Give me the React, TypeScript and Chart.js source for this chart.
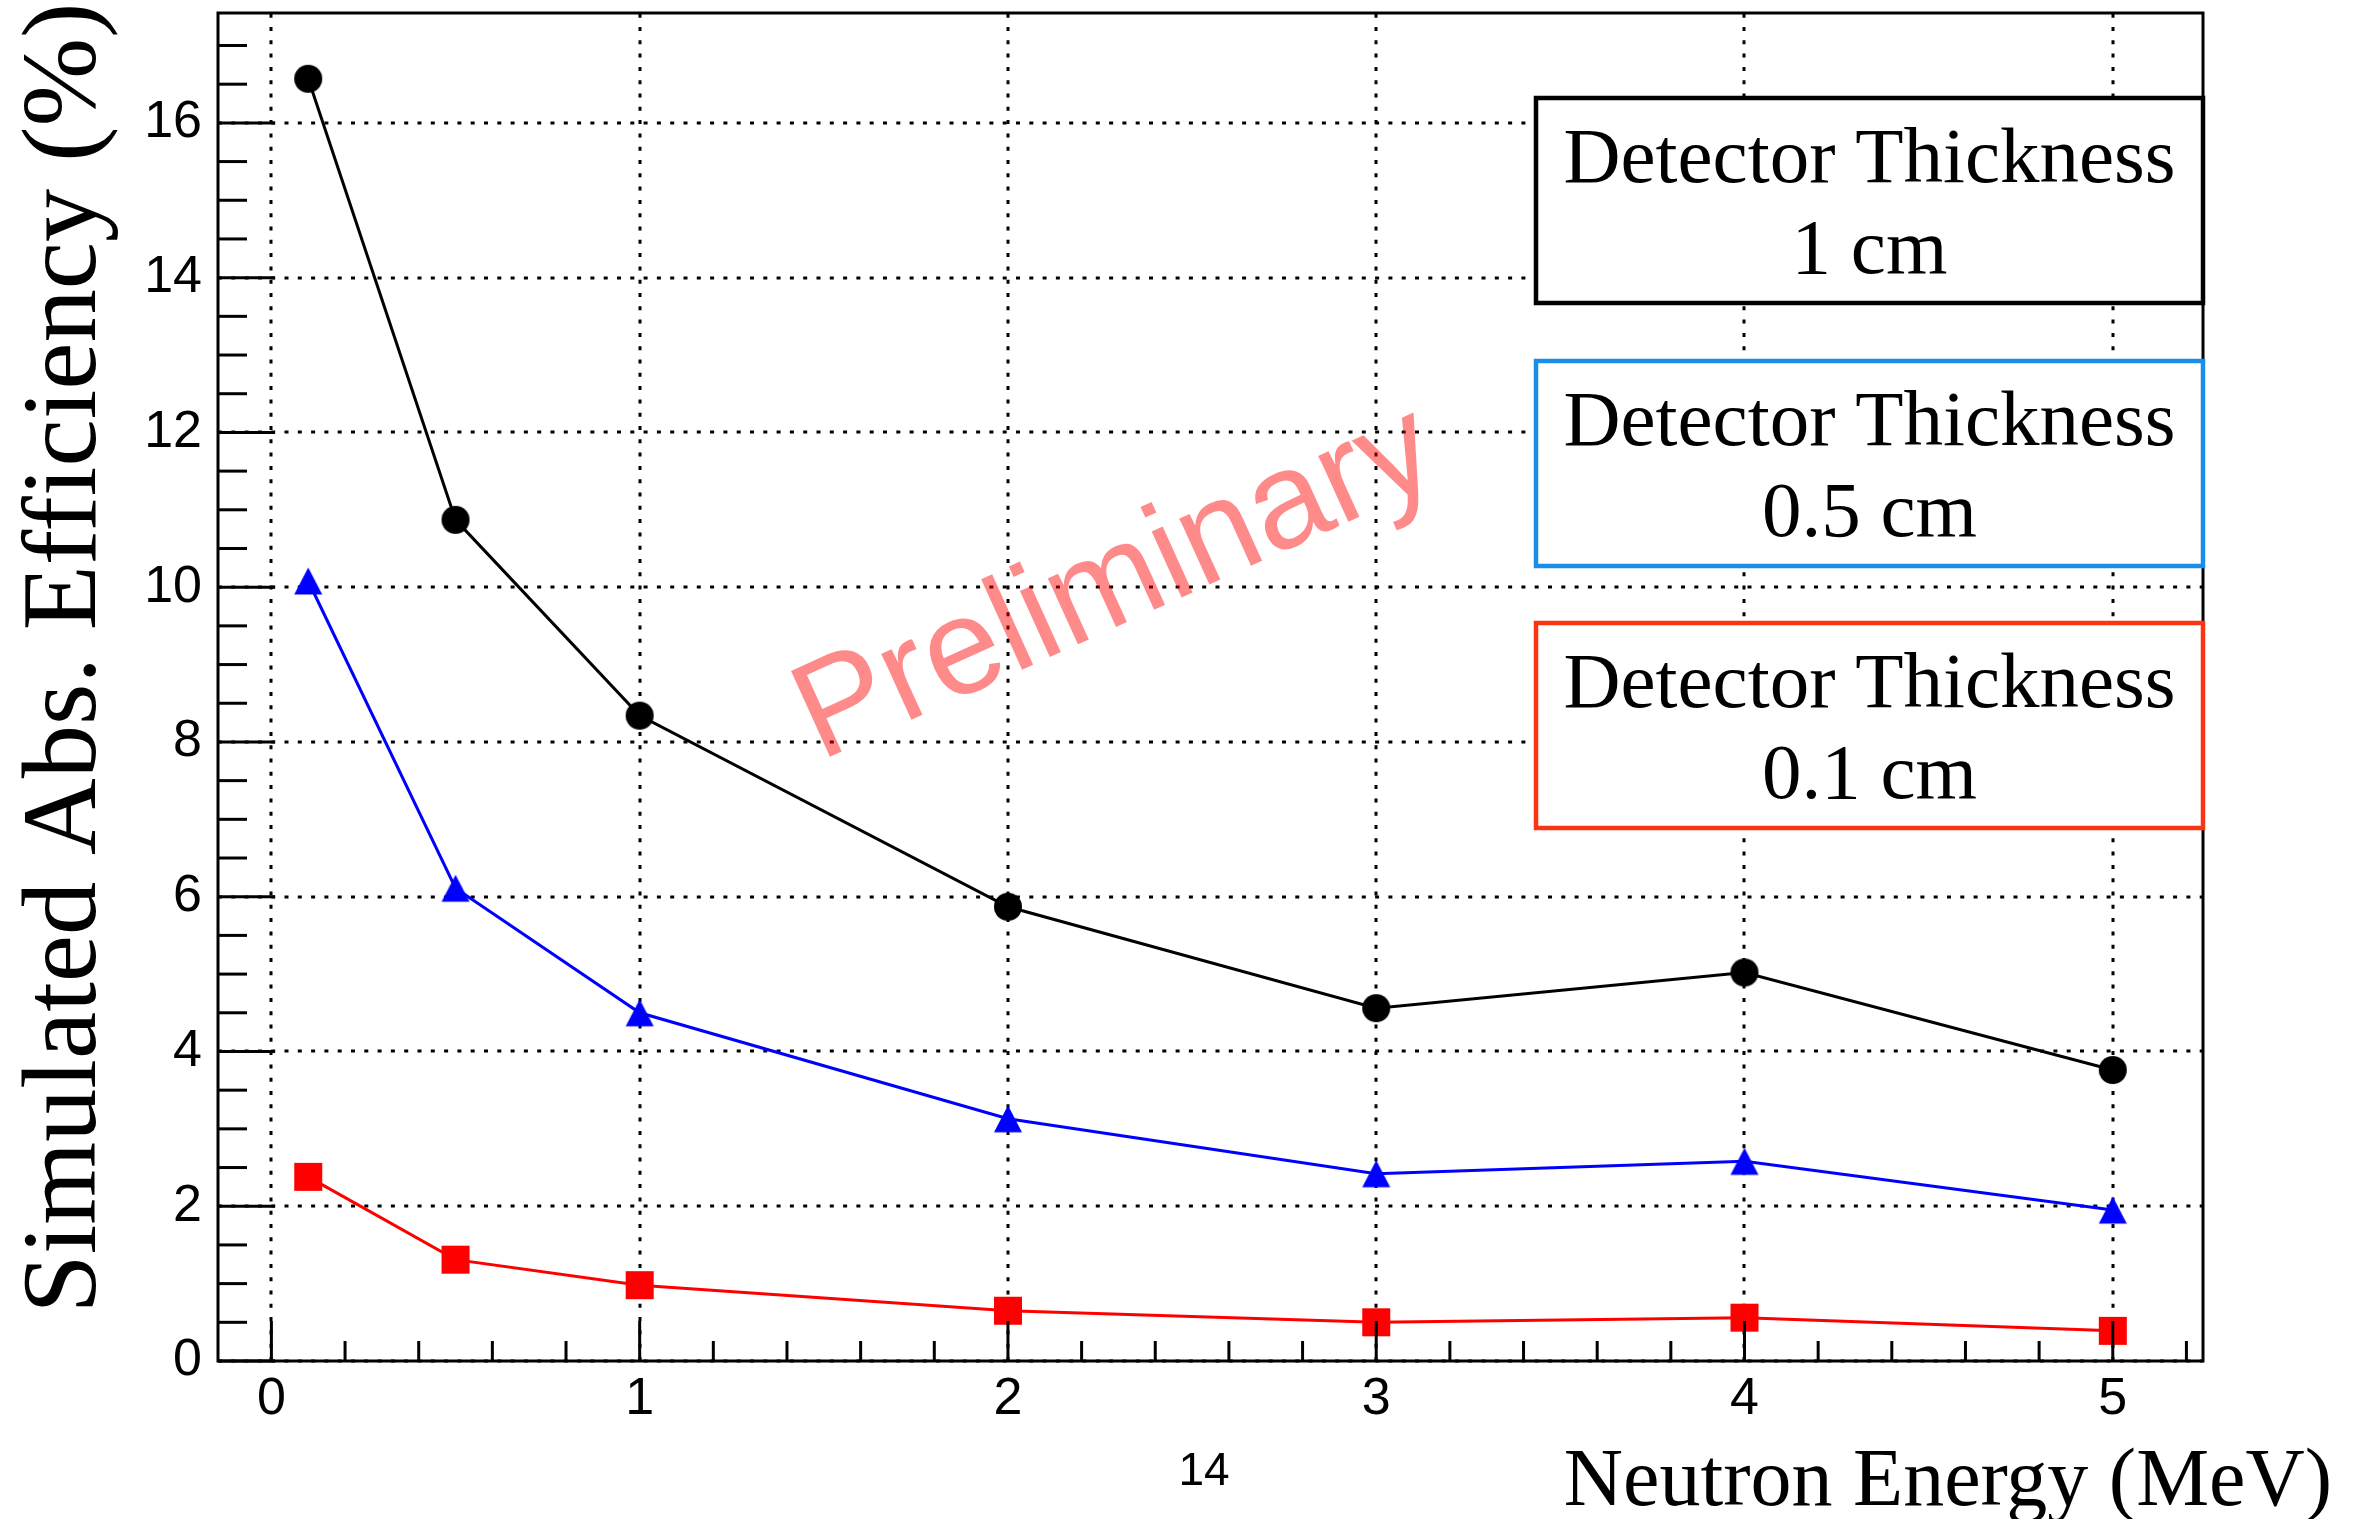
import React, { useEffect, useRef } from 'react';
import { Chart, registerables } from 'chart.js';

Chart.register(...registerables);

// ---- data ----
const energies = [0.1, 0.5, 1, 2, 3, 4, 5];
const eff1cm = [16.57, 10.87, 8.34, 5.87, 4.56, 5.02, 3.76];
const eff05cm = [10.08, 6.11, 4.5, 3.13, 2.42, 2.58, 1.95];
const eff01cm = [2.38, 1.31, 0.98, 0.65, 0.5, 0.56, 0.39];
const thicknessLabels = ['1 cm', '0.5 cm', '0.1 cm'];
const boxHeading = 'Detector Thickness';
const xAxisTitle = 'Neutron Energy (MeV)';
const yAxisTitle = 'Simulated Abs. Efficiency (%)';
const watermarkText = 'Preliminary';
const pageLabel = '14';
const xMin = -0.145;
const xMax = 5.245;
const xStep = 1;
const xMinorStep = 0.2;
const yMin = 0;
const yMax = 17.42;
const yStep = 2;
const yMinorStep = 0.5;

// ---- layout / style ----
const W = 2358;
const H = 1519;
const AREA = { left: 218, top: 13, right: 2203, bottom: 1361 };
const SANS = '"Liberation Sans", Arial, Helvetica, sans-serif';
const SERIF = '"Liberation Serif", "Times New Roman", Times, serif';
const seriesColors = ['#000000', '#0000ff', '#ff0000'];
const boxColors = ['#000000', '#1a8ee8', '#fb3513'];

function makeMarker(kind: string, color: string) {
  const c = document.createElement('canvas');
  const s = 30;
  c.width = s;
  c.height = s;
  const g = c.getContext('2d')!;
  g.fillStyle = color;
  g.beginPath();
  if (kind === 'circle') {
    g.arc(s / 2, s / 2, 14, 0, Math.PI * 2);
  } else if (kind === 'square') {
    g.rect(1, 1, 28, 28);
  } else {
    g.moveTo(s / 2, 1.5);
    g.lineTo(s / 2 + 14, 28.5);
    g.lineTo(s / 2 - 14, 28.5);
    g.closePath();
  }
  g.fill();
  return c;
}

function minorValues(min: number, max: number, step: number, major: number) {
  const out: number[] = [];
  for (let i = Math.ceil(min / step - 1e-9); i * step <= max + 1e-9; i++) {
    const v = i * step;
    const r = v / major;
    if (Math.abs(r - Math.round(r)) > 1e-6) out.push(v);
  }
  return out;
}

const rootStyle = {
  id: 'rootStyle',
  beforeDatasetsDraw(chart: any) {
    const { ctx, chartArea: a } = chart;
    const x = chart.scales.x;
    const y = chart.scales.y;
    ctx.save();
    ctx.strokeStyle = '#000';
    ctx.lineWidth = 3;
    ctx.setLineDash([4, 9.3]);
    x.ticks.forEach((t: any) => {
      const px = Math.round(x.getPixelForValue(t.value));
      ctx.beginPath();
      ctx.moveTo(px, a.bottom);
      ctx.lineTo(px, a.top);
      ctx.stroke();
    });
    y.ticks.forEach((t: any) => {
      const py = Math.round(y.getPixelForValue(t.value));
      ctx.beginPath();
      ctx.moveTo(a.left, py);
      ctx.lineTo(a.right, py);
      ctx.stroke();
    });
    ctx.restore();
  },
  afterDatasetsDraw(chart: any) {
    const { ctx, chartArea: a } = chart;
    const x = chart.scales.x;
    const y = chart.scales.y;
    ctx.save();
    ctx.strokeStyle = '#000';
    ctx.lineWidth = 3;
    ctx.setLineDash([]);
    const vt = (px: number, len: number) => {
      ctx.beginPath();
      ctx.moveTo(px, a.bottom);
      ctx.lineTo(px, a.bottom - len);
      ctx.stroke();
    };
    const ht = (py: number, len: number) => {
      ctx.beginPath();
      ctx.moveTo(a.left, py);
      ctx.lineTo(a.left + len, py);
      ctx.stroke();
    };
    x.ticks.forEach((t: any) => vt(x.getPixelForValue(t.value), 40));
    minorValues(xMin, xMax, xMinorStep, xStep).forEach((v) => vt(x.getPixelForValue(v), 20));
    y.ticks.forEach((t: any) => ht(y.getPixelForValue(t.value), 57));
    minorValues(yMin, yMax, yMinorStep, yStep).forEach((v) => ht(y.getPixelForValue(v), 29));
    ctx.strokeRect(a.left, a.top, a.right - a.left, a.bottom - a.top);
    ctx.restore();
  },
  afterDraw(chart: any) {
    const { ctx, chartArea: a } = chart;
    ctx.save();
    // watermark
    ctx.save();
    ctx.translate(1131.6, 620);
    ctx.rotate((-24.4 * Math.PI) / 180);
    ctx.font = `137px ${SANS}`;
    ctx.fillStyle = 'rgba(255,0,0,0.46)';
    ctx.textAlign = 'center';
    ctx.textBaseline = 'alphabetic';
    ctx.fillText(watermarkText, 0, 0);
    ctx.restore();

    // thickness boxes
    const boxLeft = 1536;
    const boxRight = a.right;
    const boxTops = [98, 361, 623];
    const boxH = 205;
    const cx = (boxLeft + boxRight) / 2;
    thicknessLabels.forEach((lab, i) => {
      const top = boxTops[i];
      ctx.fillStyle = '#fff';
      ctx.fillRect(boxLeft, top, boxRight - boxLeft, boxH);
      ctx.strokeStyle = boxColors[i];
      ctx.lineWidth = 4.5;
      ctx.strokeRect(boxLeft, top, boxRight - boxLeft, boxH);
      ctx.fillStyle = '#000';
      ctx.font = `79px ${SERIF}`;
      ctx.textAlign = 'center';
      ctx.textBaseline = 'alphabetic';
      ctx.fillText(boxHeading, cx, top + 83.5);
      ctx.fillText(lab, cx, top + 174.5);
    });

    // axis titles
    ctx.fillStyle = '#000';
    ctx.font = `82px ${SERIF}`;
    ctx.textAlign = 'right';
    ctx.textBaseline = 'alphabetic';
    ctx.fillText(xAxisTitle, 2332, 1505);

    ctx.save();
    ctx.translate(94.5, 658);
    ctx.rotate(-Math.PI / 2);
    ctx.font = `106.5px ${SERIF}`;
    ctx.textAlign = 'center';
    ctx.fillText(yAxisTitle, 0, 0);
    ctx.restore();

    // page label
    ctx.font = `46px ${SANS}`;
    ctx.textAlign = 'center';
    ctx.fillText(pageLabel, 1204, 1485);
    ctx.restore();
  },
};

export default function App() {
  const ref = useRef<HTMLCanvasElement>(null);
  useEffect(() => {
    const canvas = ref.current;
    if (!canvas) return;
    const series = [eff1cm, eff05cm, eff01cm];
    const kinds = ['circle', 'triangle', 'square'];
    const markers = kinds.map((k, i) => makeMarker(k, seriesColors[i]));
    const chart = new Chart(canvas, {
      type: 'line',
      data: {
        datasets: series.map((vals, i) => ({
          label: thicknessLabels[i],
          data: energies.map((e, j) => ({ x: e, y: vals[j] })),
          borderColor: seriesColors[i],
          backgroundColor: seriesColors[i],
          borderWidth: 3,
          tension: 0,
          fill: false,
          pointStyle: markers[i] as any,
          pointRadius: 1,
          pointHoverRadius: 1,
          pointBorderWidth: 0,
          pointBackgroundColor: seriesColors[i],
          pointBorderColor: seriesColors[i],
        })),
      },
      options: {
        responsive: false,
        animation: false,
        devicePixelRatio: 1,
        layout: { padding: { left: 0, top: AREA.top, right: W - AREA.right, bottom: 0 } },
        plugins: {
          legend: { display: false },
          tooltip: { enabled: false },
          title: { display: false },
        },
        scales: {
          x: {
            type: 'linear',
            min: xMin,
            max: xMax,
            grid: { display: false, drawTicks: false },
            border: { display: false },
            ticks: {
              stepSize: xStep,
              includeBounds: false,
              autoSkip: false,
              maxRotation: 0,
              padding: 7,
              color: '#000',
              font: { family: SANS, size: 52 },
            },
            afterFit: (s: any) => {
              s.height = H - AREA.bottom;
              s.paddingLeft = 0;
              s.paddingRight = 0;
            },
          },
          y: {
            type: 'linear',
            min: yMin,
            max: yMax,
            grid: { display: false, drawTicks: false },
            border: { display: false },
            ticks: {
              stepSize: yStep,
              includeBounds: false,
              autoSkip: false,
              padding: 16,
              color: '#000',
              font: { family: SANS, size: 52 },
            },
            afterFit: (s: any) => {
              s.width = AREA.left;
              s.paddingTop = 0;
              s.paddingBottom = 0;
            },
          },
        },
      } as any,
      plugins: [rootStyle as any],
    });
    return () => chart.destroy();
  }, []);
  return (
    <div style={{ position: 'absolute', left: 0, top: 0, width: W, height: H, background: '#fff' }}>
      <canvas ref={ref} width={W} height={H} style={{ display: 'block', width: W, height: H }} />
    </div>
  );
}
